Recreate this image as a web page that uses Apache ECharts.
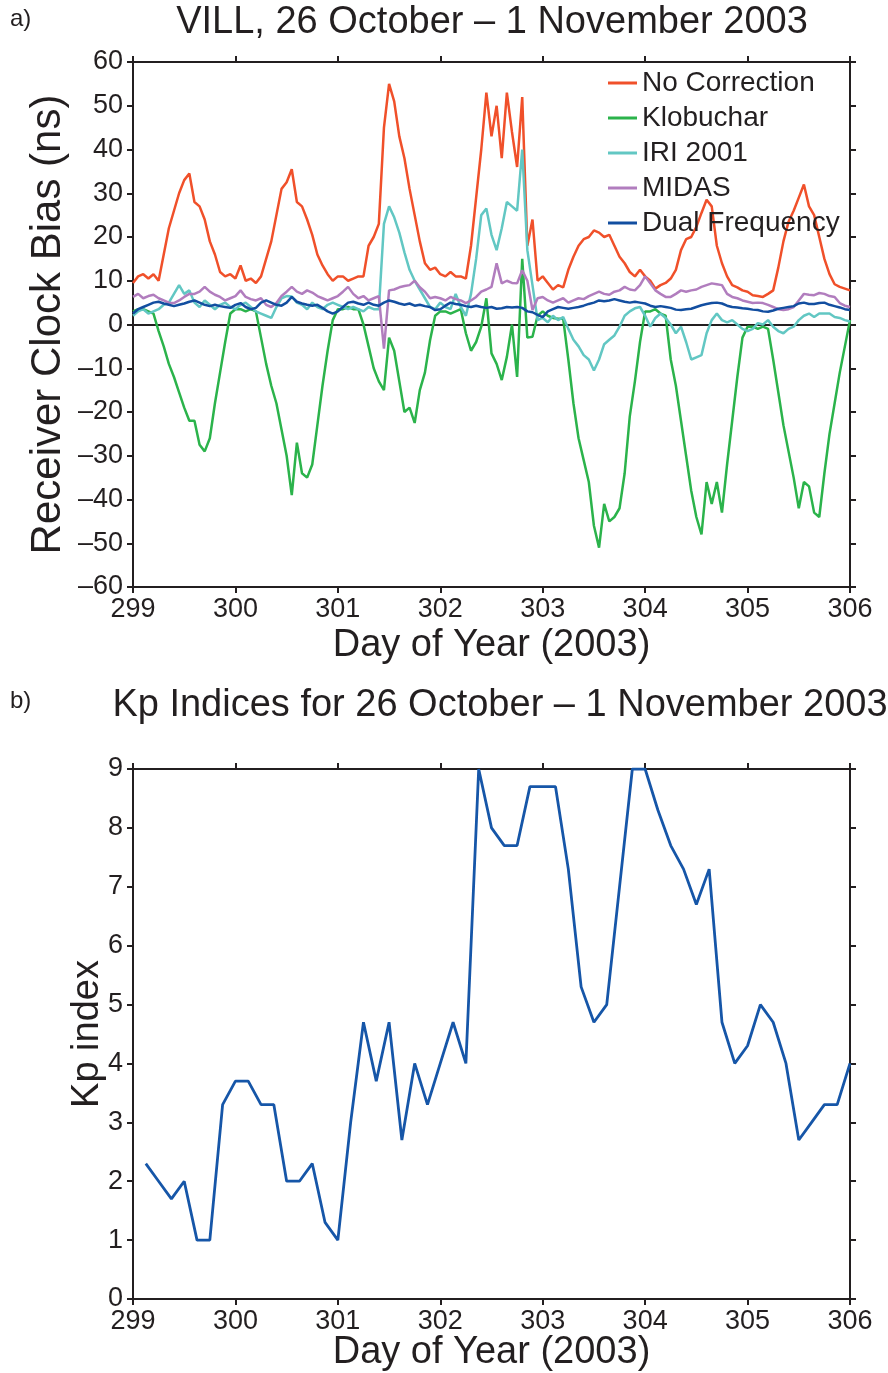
<!DOCTYPE html>
<html>
<head>
<meta charset="utf-8">
<title>VILL receiver clock bias and Kp indices</title>
<script src="https://cdn.jsdelivr.net/npm/echarts@6/dist/echarts.min.js"></script>
<style>
  html, body { margin: 0; padding: 0; background: #fff; }
  #chart { width: 888px; height: 1373px; }
</style>
</head>
<body>
<div id="chart"></div>
<script>
// clock bias samples, one every 0.05 day from day 299.00 to 306.00
const biasStart = 299;
const biasStep = 0.05;

const noCorrection = [
  9.5, 11, 11.5, 10.5, 11.5, 10, 16, 22, 26, 30, 33, 34.5, 28, 27, 24, 19, 16, 12, 11, 11.5,
  10.5, 13.5, 10, 10.5, 9.5, 11, 15, 19, 25, 31, 32.5, 35.5, 28, 27, 24, 20.5, 16, 13.5, 11.5, 10,
  11, 11, 10, 10.5, 11, 11, 18, 20, 23, 45, 55, 51, 43, 38, 31, 25, 19, 14, 12.5, 13,
  11.5, 11, 12, 11, 11, 10.5, 18, 29, 40, 53, 43, 50, 38, 53, 44, 36, 52, 18, 24, 10,
  11, 9.5, 8, 9, 8.5, 12.5, 15.5, 18, 19.5, 20, 21.5, 21, 20, 20.5, 18, 15.5, 14, 12, 11, 12.5,
  11, 10, 8.2, 9, 9.5, 10.5, 12.5, 17, 19.5, 20, 22.3, 25.5, 28.5, 27, 18, 14, 11, 9, 8.5, 7.8,
  7.5, 6.7, 6.5, 6.3, 7, 7.8, 13, 19, 23.5, 26, 29, 32, 27, 25, 20, 15, 11.5, 9.2, 8.6, 8.2,
  7.8
];
const klobuchar = [
  3, 3.5, 3.5, 3, 2.5, -1.5, -5, -9, -12, -15.5, -19, -22, -22, -27.5, -29, -26, -18, -11, -4, 2.5,
  3.5, 3.5, 3, 3.5, 3, -3, -9, -14, -18, -24, -30, -39, -27, -34, -35, -32, -23, -14, -6, 1,
  3.5, 3.5, 4, 3.5, 3.5, 0, -5, -10, -13, -15, -3, -6, -13, -20, -19, -22.5, -15, -11, -3.6, 2,
  3, 3, 2.5, 3, 3.5, -2, -6, -4, -0.5, 6, -6.6, -9, -12.7, -7.4, 0, -12, 15, -3, -2.8, 2,
  3, 2, 1.5, 1.3, 1.3, -8, -18, -26, -31, -36, -46, -51, -41, -45, -44, -42, -34, -21, -13, -4,
  3, 3, 3.5, 2.5, 2, -8, -14, -22, -30, -38, -44, -48, -36, -41, -36, -43, -32, -22, -12, -3,
  -0.5, -0.5, -1, -0.5, -1, -8, -15.5, -23, -29, -35, -42, -36, -37, -43, -44, -34, -25, -18, -11, -5,
  1
];
const iri2001 = [
  2, 3, 3.5, 2.5, 3, 3.5, 4.5, 5, 7, 9, 7, 7.8, 5, 4, 5.5, 4.5, 3.5, 4.5, 5, 4,
  3.5, 4.5, 5, 4, 3, 2.5, 2, 1.5, 4, 6, 6.5, 6.4, 5, 4.5, 3.5, 5, 4, 3.5, 4.5, 5,
  4.5, 4, 3.5, 4, 3.5, 3, 4, 3.5, 3.5, 23, 27, 24.5, 21, 16.5, 12.5, 10, 8, 6, 4, 3.5,
  5, 4, 3.5, 7, 4, 2, 7, 15, 25, 26.5, 20.5, 17, 22, 28, 27, 26, 40, 17, 9, 1,
  1.5, 0.5, 2, 1, 1.7, -1, -3.5, -5, -7, -8, -10.5, -8, -4.5, -3.5, -2.5, -0.5, 2, 3, 3.7, 4,
  2, -0.5, 1.5, 2.5, 1.5, 0, -2, -0.5, -4, -8, -7.5, -7, -2, 1, 2.5, 1, 0.5, 1, 0, -1,
  -1.5, -1, 0.3, 0, 1, -0.5, -1.5, -2, -1, -0.5, 1, 2, 2.5, 1.7, 2.5, 2.5, 2.5, 1.7, 1.5, 1,
  0.7
];
const midas = [
  6.3, 7, 6, 6.5, 6.8, 6, 5.5, 5, 4.9, 5.5, 6.3, 7, 7, 7.5, 8.6, 7.5, 6.8, 6.3, 5.5, 6,
  6.5, 7.8, 6.3, 5.8, 5.5, 6, 4.5, 4, 4.9, 6.5, 7.5, 8.6, 7.5, 7, 7.8, 7.3, 6.5, 6, 5.5, 6,
  6.5, 7.5, 8.6, 7, 6, 6.5, 5.5, 6, 6.5, -5.5, 7.8, 8, 8.5, 8.8, 9, 10, 8.5, 7.5, 6, 6.3,
  6, 5.5, 6.3, 5.8, 5.5, 4.9, 5.5, 6.3, 7.5, 8, 8.6, 14, 9.4, 10, 9.5, 9.4, 12.4, 10, 3.3, 6,
  6.3, 5.5, 5, 5.5, 6, 5, 5.5, 6, 5.8, 6.5, 7, 7.5, 7, 6.8, 7.5, 7.8, 8.6, 8, 7.8, 9,
  11, 9.4, 7.8, 7, 6.3, 6.3, 7, 7.8, 7.5, 7.8, 8, 8.6, 9, 9.4, 9.2, 9, 7, 6.3, 6, 5.5,
  5.2, 4.9, 5, 4.9, 4.5, 4, 3.5, 3.3, 3.5, 4, 5.5, 7, 6.8, 6.7, 7.2, 7, 6.5, 6.3, 4.9, 4.3,
  4
];
const dualFrequency = [
  2.5, 3.5, 4, 4.5, 5, 5.2, 4.8, 4.5, 4.2, 4.5, 4.8, 5.2, 5.5, 5, 4.5, 4.2, 4.5, 4.2, 4, 3.8,
  4.5, 4.9, 4, 3.5, 3.8, 5, 5.5, 5, 4.5, 4.3, 5, 6.3, 5.2, 4.8, 4.5, 4.3, 4.5, 3.8, 3, 2.5,
  3, 4, 5, 5.2, 4.8, 4.5, 5, 4.5, 4.3, 5, 5.5, 5.2, 4.8, 4.5, 4.8, 4.3, 4.5, 4.2, 4, 3.3,
  3.5, 4.3, 5, 4.7, 4.5, 4.2, 4, 4.3, 4, 3.8, 4, 3.6, 3.7, 4, 3.9, 4, 3.8, 3, 2.8, 2.2,
  1.7, 3, 3.5, 4, 3.8, 3.6, 3.8, 4, 4.3, 4.7, 5, 5.5, 5.3, 5.5, 5.8, 5.5, 5.2, 5, 5.2, 5,
  4.8, 4.3, 4, 4.2, 4, 3.8, 3.4, 3.3, 3.5, 3.6, 4, 4.4, 4.7, 4.9, 5, 4.8, 4.3, 4, 3.9, 3.7,
  3.6, 3.4, 3.3, 3, 2.9, 3.2, 3.6, 3.8, 4, 4.2, 4.8, 5, 4.7, 4.7, 4.9, 5, 4.5, 4.2, 3.9, 3.5,
  3.3
];

// three-hourly Kp, first value at day 299.125
const kpStart = 299.125;
const kpStep = 0.125;
const kpIndex = [
  2.3, 2.0, 1.7, 2.0, 1.0, 1.0, 3.3, 3.7,
  3.7, 3.3, 3.3, 2.0, 2.0, 2.3, 1.3, 1.0,
  3.0, 4.7, 3.7, 4.7, 2.7, 4.0, 3.3, 4.0,
  4.7, 4.0, 9.0, 8.0, 7.7, 7.7, 8.7, 8.7,
  8.7, 7.3, 5.3, 4.7, 5.0, 7.0, 9.0, 9.0,
  8.3, 7.7, 7.3, 6.7, 7.3, 4.7, 4.0, 4.3,
  5.0, 4.7, 4.0, 2.7, 3.0, 3.3, 3.3, 4.0
];

const dayTicks = [299, 300, 301, 302, 303, 304, 305, 306];
const biasTicks = [-60, -50, -40, -30, -20, -10, 0, 10, 20, 30, 40, 50, 60];
const kpTicks = [0, 1, 2, 3, 4, 5, 6, 7, 8, 9];

const seriesNames = ['No Correction', 'Klobuchar', 'IRI 2001', 'MIDAS', 'Dual Frequency'];
const seriesValues = [noCorrection, klobuchar, iri2001, midas, dualFrequency];
const seriesColors = ['#f0502a', '#2bb34b', '#62c7c3', '#b17dbe', '#124ea0'];
const kpColor = '#1656a8';

const ink = '#231f20';
const fontFamily = '"Liberation Sans", Arial, Helvetica, sans-serif';

function toPairs(values, start, step) {
  return values.map((v, i) => [Number((start + i * step).toFixed(3)), v]);
}

function tickRange(ticks) {
  return { min: ticks[0], max: ticks[ticks.length - 1], interval: ticks[1] - ticks[0] };
}

const lineBits = {
  axisLine: { show: true, onZero: false, lineStyle: { color: ink, width: 2 } },
  axisTick: { show: true, inside: false, length: 6, lineStyle: { color: ink, width: 2 } },
  splitLine: { show: false }
};
const minusSign = v => String(v).replace('-', '\u2013');

function frameX(gridIndex, ticks, name, nameGap) {
  const r = tickRange(ticks);
  return [
    Object.assign({
      type: 'value', gridIndex, position: 'bottom', min: r.min, max: r.max, interval: r.interval,
      name, nameLocation: 'middle', nameGap, nameMoveOverlap: false,
      nameTextStyle: { fontSize: 38, color: ink, fontFamily },
      axisLabel: { fontSize: 27, color: ink, fontFamily, margin: 9 }
    }, lineBits),
    Object.assign({
      type: 'value', gridIndex, position: 'top', min: r.min, max: r.max, interval: r.interval,
      axisLabel: { show: false }
    }, lineBits)
  ];
}

function frameY(gridIndex, ticks, name, nameGap, nameSize) {
  const r = tickRange(ticks);
  return [
    Object.assign({
      type: 'value', gridIndex, position: 'left', min: r.min, max: r.max, interval: r.interval,
      name, nameLocation: 'middle', nameGap, nameMoveOverlap: false,
      nameTextStyle: { fontSize: nameSize, color: ink, fontFamily },
      axisLabel: { fontSize: 27, color: ink, fontFamily, margin: 10, formatter: minusSign }
    }, lineBits),
    Object.assign({
      type: 'value', gridIndex, position: 'right', min: r.min, max: r.max, interval: r.interval,
      axisLabel: { show: false }
    }, lineBits)
  ];
}

const biasSeries = seriesNames.map((name, i) => {
  const s = {
    name, type: 'line', xAxisIndex: 0, yAxisIndex: 0,
    data: toPairs(seriesValues[i], biasStart, biasStep),
    showSymbol: false, symbol: 'none',
    lineStyle: { color: seriesColors[i], width: 2.5 },
    itemStyle: { color: seriesColors[i] },
    z: 2 + i
  };
  if (i === 0) {
    s.markLine = {
      silent: true, symbol: ['none', 'none'], label: { show: false },
      lineStyle: { color: ink, width: 2, type: 'solid' },
      data: [{ yAxis: 0 }], z: 1
    };
  }
  return s;
});

const chart = echarts.init(document.getElementById('chart'), null, { renderer: 'canvas' });
chart.setOption({
  animation: false,
  backgroundColor: '#fff',
  textStyle: { fontFamily },
  title: [
    { text: 'a)', left: 10, top: 19, padding: 0, textAlign: 'left', textVerticalAlign: 'middle',
      textStyle: { fontSize: 24, fontWeight: 'normal', color: ink, fontFamily } },
    { text: 'VILL, 26 October \u2013 1 November 2003', left: 492, top: 23, padding: 0,
      textAlign: 'center', textVerticalAlign: 'middle',
      textStyle: { fontSize: 38, fontWeight: 'normal', color: ink, fontFamily } },
    { text: 'b)', left: 10, top: 701, padding: 0, textAlign: 'left', textVerticalAlign: 'middle',
      textStyle: { fontSize: 24, fontWeight: 'normal', color: ink, fontFamily } },
    { text: 'Kp Indices for 26 October \u2013 1 November 2003', left: 500, top: 706, padding: 0,
      textAlign: 'center', textVerticalAlign: 'middle',
      textStyle: { fontSize: 38, fontWeight: 'normal', color: ink, fontFamily } }
  ],
  legend: {
    orient: 'vertical', left: 608, top: 69, padding: 0,
    itemWidth: 29, itemHeight: 3, itemGap: 7, icon: 'rect',
    selectedMode: false,
    textStyle: { fontSize: 28, color: ink, fontFamily, lineHeight: 28 },
    data: seriesNames
  },
  grid: [
    { left: 133, top: 62, width: 717, height: 525 },
    { left: 133, top: 769, width: 717, height: 531 }
  ],
  xAxis: frameX(0, dayTicks, 'Day of Year (2003)', 40).concat(frameX(1, dayTicks, 'Day of Year (2003)', 35)),
  yAxis: frameY(0, biasTicks, 'Receiver Clock Bias (ns)', 64, 42).concat(frameY(1, kpTicks, 'Kp index', 26, 38)),
  series: biasSeries.concat([{
    name: 'Kp', type: 'line', xAxisIndex: 2, yAxisIndex: 2,
    data: toPairs(kpIndex, kpStart, kpStep),
    showSymbol: false, symbol: 'none',
    lineStyle: { color: kpColor, width: 2.8 },
    itemStyle: { color: kpColor }
  }])
});
</script>
</body>
</html>
